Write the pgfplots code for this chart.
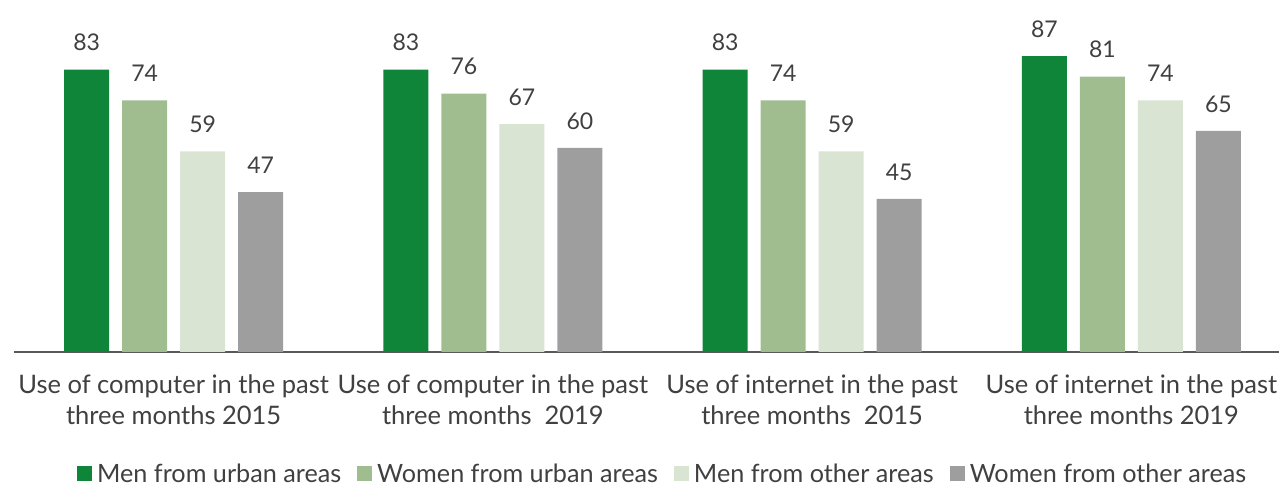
\documentclass[border=0pt]{standalone}
\usepackage{pgfplots}
\pgfplotsset{compat=1.18}
\usepackage{fontspec}
\setmainfont{Lato}
\definecolor{c1}{RGB}{14,133,56}
\definecolor{c2}{RGB}{160,189,144}
\definecolor{c3}{RGB}{218,228,211}
\definecolor{c4}{RGB}{158,158,158}
\definecolor{txt}{RGB}{64,64,64}
\begin{document}
\begin{tikzpicture}
\useasboundingbox (0,0) rectangle (1279pt,486pt);
\begin{axis}[
  at={(14pt,134pt)}, anchor=south west,
  scale only axis, width=1277pt, height=352pt,
  xmin=-0.5, xmax=3.5, ymin=0, ymax=103.5,
  ybar=13pt, bar width=45pt,
  axis x line=bottom, axis y line=none,
  x axis line style={-, draw=black!65, line width=1.5pt},
  xtick=data, major tick length=0pt,
  /pgf/number format/assume math mode=true,
  xticklabels={{Use of computer in the past\\three months 2015},{Use of computer in the past\\three months~~2019},{Use of internet in the past\\three months~~2015},{Use of internet in the past\\three months 2019}},
  xticklabel style={align=center, font=\fontsize{25.5}{31}\selectfont, text=txt, yshift=-19pt},
  nodes near coords,
  nodes near coords style={font=\fontsize{23}{26}\selectfont, text=txt, anchor=south, yshift=15pt},
  legend columns=4,
  legend style={at={(0.508,-0.3466)}, anchor=center, draw=none, fill=none,
    font=\fontsize{25.2}{28}\selectfont, text=txt,
    /tikz/every even column/.append style={column sep=14pt}},
  legend image code/.code={\fill[#1] (0pt,-7pt) rectangle (15pt,8pt); \path (18pt,0pt);},
]
\addplot[fill=c1, draw=none] coordinates {(0,83) (1,83) (2,83) (3,87)};
\addplot[fill=c2, draw=none] coordinates {(0,74) (1,76) (2,74) (3,81)};
\addplot[fill=c3, draw=none] coordinates {(0,59) (1,67) (2,59) (3,74)};
\addplot[fill=c4, draw=none] coordinates {(0,47) (1,60) (2,45) (3,65)};
\legend{Men from urban areas, Women from urban areas, Men from other areas, Women from other areas}
\end{axis}
\end{tikzpicture}
\end{document}
